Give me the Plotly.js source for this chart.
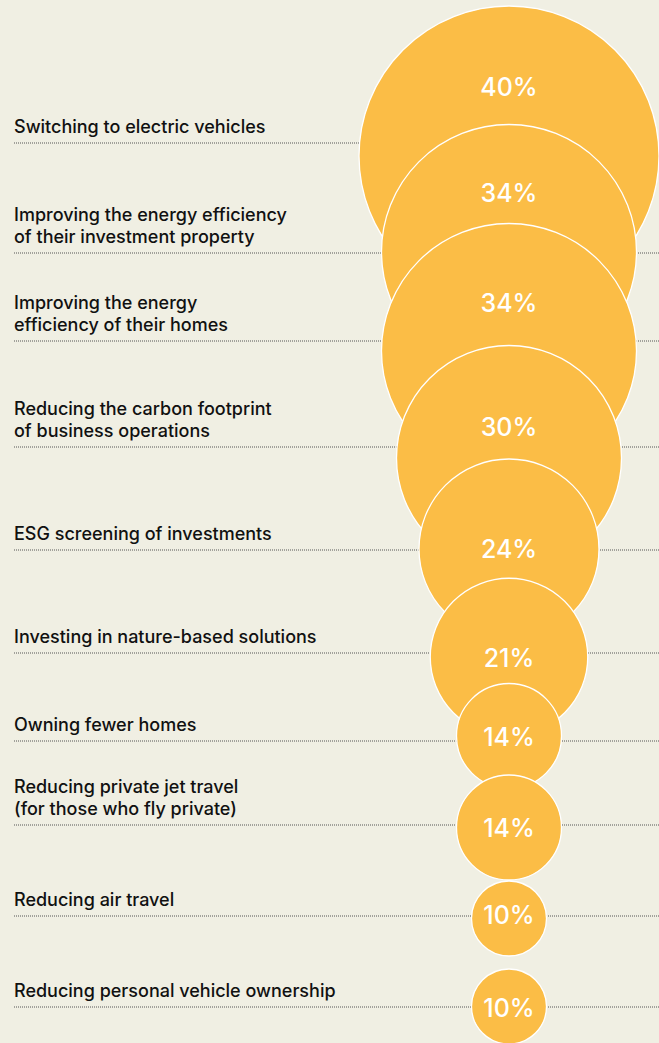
<!DOCTYPE html>
<html>
<head>
<meta charset="utf-8">
<script src="https://cdn.plot.ly/plotly-3.0.1.min.js"></script>
<style>html,body{margin:0;padding:0;background:#f0efe3;}</style>
</head>
<body>
<div id="chart" style="width:659px;height:1043px;"></div>
<script>
// ---- data ----
const categories = [
  "Switching to electric vehicles",
  "Improving the energy efficiency<br>of their investment property",
  "Improving the energy<br>efficiency of their homes",
  "Reducing the carbon footprint<br>of business operations",
  "ESG screening of investments",
  "Investing in nature-based solutions",
  "Owning fewer homes",
  "Reducing private jet travel<br>(for those who fly private)",
  "Reducing air travel",
  "Reducing personal vehicle ownership"
];
const values = [40, 34, 34, 30, 24, 21, 14, 14, 10, 10];
const valueLabels = values.map(v => v + "%");

// ---- layout (pixel-space positions) ----
const rowLineY   = [143, 253, 341, 447, 550, 653, 741, 825, 916, 1007];
const circleY    = [156, 252, 351, 458, 549, 657, 736, 827.5, 918.5, 1006.5];
const valueTextY = [90, 196, 306, 430, 552, 661, 740, 831, 918, 1011];
const circleX = 509;
const pxPerPoint = 7.5;   // circle diameter in px per percentage point
const lineGap = 21.5;     // label line spacing
const labelFont = {family: "Inter, 'Noto Sans', sans-serif", size: 18, color: "#111111", weight: 500};

const W = 659, H = 1043;
const bubbles = {
  type: "scatter", mode: "markers",
  x: values.map(() => circleX), y: circleY,
  marker: {
    size: values, sizemode: "diameter", sizeref: 1 / pxPerPoint,
    color: "#fbbd46", opacity: 1,
    line: {color: "#ffffff", width: 1.3}
  },
  hoverinfo: "skip", cliponaxis: false
};
const labels = {
  type: "scatter", mode: "text",
  x: values.map(() => circleX), y: valueTextY,
  text: valueLabels, textposition: "middle center",
  textfont: {family: "Inter, 'Noto Sans', sans-serif", size: 25, color: "#ffffff", weight: 500},
  hoverinfo: "skip", cliponaxis: false
};

const shapes = rowLineY.map(y => ({
  type: "line", xref: "x", yref: "y", x0: 14, x1: W, y0: y, y1: y,
  line: {color: "#555555", width: 1, dash: "1px,1px"}, layer: "below"
}));
const annotations = [];
categories.forEach((c, i) => {
  const lines = c.split("<br>");
  lines.forEach((t, k) => {
    const fromBottom = lines.length - 1 - k;
    annotations.push({
      xref: "x", yref: "y", x: 14, y: rowLineY[i] - 17 - fromBottom * lineGap,
      xanchor: "left", yanchor: "middle", align: "left", xshift: -2,
      text: t, showarrow: false, font: labelFont
    });
  });
});

Plotly.newPlot("chart", [bubbles, labels], {
  width: W, height: H,
  margin: {l: 0, r: 0, t: 0, b: 0},
  paper_bgcolor: "#f0efe3", plot_bgcolor: "#f0efe3",
  showlegend: false, hovermode: false,
  xaxis: {range: [0, W], visible: false, fixedrange: true},
  yaxis: {range: [H, 0], visible: false, fixedrange: true},
  shapes: shapes, annotations: annotations
}, {displayModeBar: false, staticPlot: true});
</script>
</body>
</html>
